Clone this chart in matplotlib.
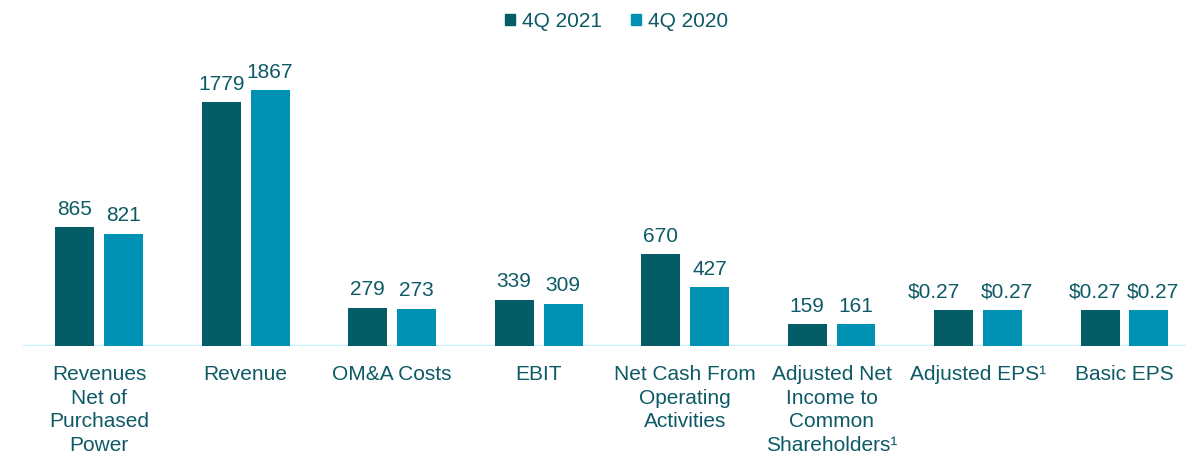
import matplotlib.pyplot as plt
from matplotlib.patches import Patch
import numpy as np

plt.rcParams['font.family'] = ['Liberation Sans', 'DejaVu Sans']

# Data
categories = ['Revenues\nNet of\nPurchased\nPower', 'Revenue', 'OM&A Costs', 'EBIT',
              'Net Cash From\nOperating\nActivities', 'Adjusted Net\nIncome to\nCommon\nShareholders¹',
              'Adjusted EPS¹', 'Basic EPS']
q4_2021 = [865, 1779, 279, 339, 670, 159]
q4_2020 = [821, 1867, 273, 309, 427, 161]
eps_2021 = [0.27, 0.27]
eps_2020 = [0.27, 0.27]

DARK = '#035c66'
LIGHT = '#0092b4'
TEXT = '#0d5a66'
BASE = '#c9f1fb'

fig = plt.figure(figsize=(11.86, 4.54), dpi=100)
ax = fig.add_axes([0.0194, 0.2379, 0.9806, 0.6036])
ax2 = ax.twinx()

width = 0.266
off = 0.167
x_main = np.arange(len(q4_2021))
x_eps = np.arange(len(q4_2021), len(categories))

b1 = ax.bar(x_main - off, q4_2021, width, color=DARK)
b2 = ax.bar(x_main + off, q4_2020, width, color=LIGHT)
b3 = ax2.bar(x_eps - off, eps_2021, width, color=DARK)
b4 = ax2.bar(x_eps + off, eps_2020, width, color=LIGHT)

ymax = 2000
ax.set_ylim(0, ymax)
ax2.set_ylim(0, ymax * 0.27 / 262)
ax.set_xlim(-0.52, 7.42)

for bars, vals in [(b1, q4_2021), (b2, q4_2020)]:
    for bar, v in zip(bars, vals):
        ax.annotate(f'{v}', (bar.get_x() + bar.get_width() / 2, bar.get_height()),
                    xytext=(0, 6), textcoords='offset points', ha='center', va='bottom',
                    fontsize=15, color=TEXT)

# EPS labels are nudged sideways so they don't collide
eps_shift = [(-14, 3), (-4, 3)]
for bars, vals, side in [(b3, eps_2021, 0), (b4, eps_2020, 1)]:
    for i, (bar, v) in enumerate(zip(bars, vals)):
        ax2.annotate(f'${v:.2f}', (bar.get_x() + bar.get_width() / 2, bar.get_height()),
                     xytext=(eps_shift[i][side], 6), textcoords='offset points',
                     ha='center', va='bottom', fontsize=15, color=TEXT)

for a in (ax, ax2):
    for s in a.spines.values():
        s.set_visible(False)
    a.set_yticks([])
ax.axhline(0, color=BASE, linewidth=2.5, zorder=0)

ax.set_xticks(np.arange(len(categories)))
ax.set_xticklabels(categories, fontsize=15, color=TEXT, linespacing=1.3)
ax.tick_params(axis='x', length=0, pad=14)

handles = [Patch(color=DARK, label='4Q 2021'), Patch(color=LIGHT, label='4Q 2020')]
leg = fig.legend(handles=handles, loc='upper center', bbox_to_anchor=(0.52, 1.015), ncol=2,
                 frameon=False, fontsize=15, handlelength=0.45, handleheight=0.45,
                 handletextpad=0.35, columnspacing=1.4)
for t in leg.get_texts():
    t.set_color(TEXT)

fig.savefig('out.png', dpi=100, facecolor='white')
